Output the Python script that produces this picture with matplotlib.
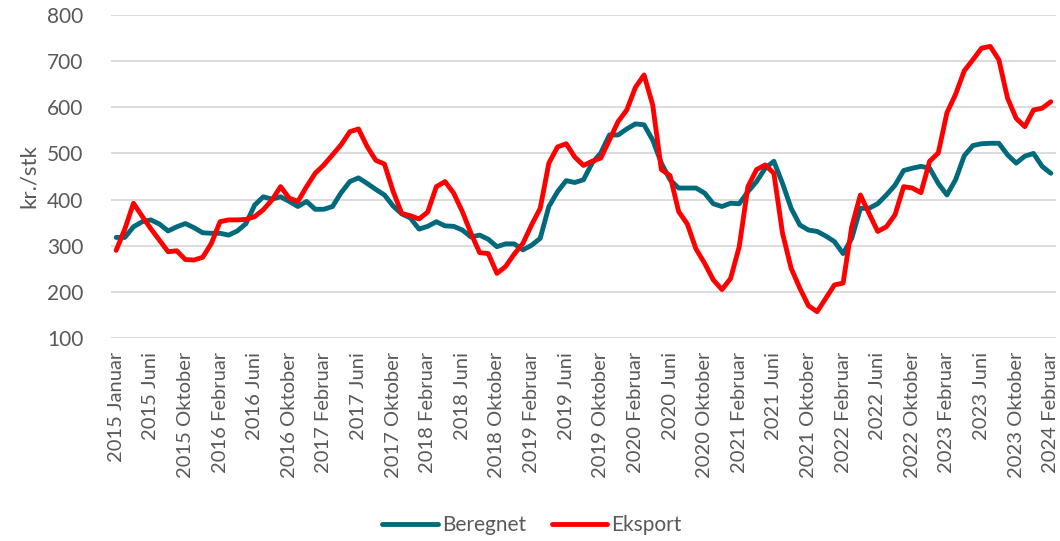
import matplotlib
matplotlib.use("Agg")
import matplotlib.pyplot as plt
import numpy as np

plt.rcParams['font.family'] = ['Lato', 'DejaVu Sans']

tick_labels = [
    "2015 Januar", "2015 Juni", "2015 Oktober", "2016 Februar", "2016 Juni",
    "2016 Oktober", "2017 Februar", "2017 Juni", "2017 Oktober", "2018 Februar",
    "2018 Juni", "2018 Oktober", "2019 Februar", "2019 Juni", "2019 Oktober",
    "2020 Februar", "2020 Juni", "2020 Oktober", "2021 Februar", "2021 Juni",
    "2021 Oktober", "2022 Februar", "2022 Juni", "2022 Oktober", "2023 Februar",
    "2023 Juni", "2023 Oktober", "2024 Februar",
]

beregnet = [
    318, 318, 341, 352, 356, 347, 332, 341, 348, 339,
    328, 327, 327, 323, 332, 348, 388, 406, 401, 406,
    396, 385, 396, 379, 379, 385, 415, 439, 447, 435,
    422, 410, 386, 369, 360, 336, 342, 352, 343, 342,
    334, 319, 323, 314, 298, 304, 304, 291, 301, 316,
    385, 417, 441, 437, 443, 479, 501, 540, 540, 553,
    564, 562, 529, 479, 443, 425, 425, 425, 414, 391,
    385, 392, 391, 417, 439, 468, 483, 435, 381, 345,
    334, 331, 321, 309, 283, 316, 381, 381, 391, 410,
    431, 463, 468, 472, 468, 435, 410, 443, 495, 517,
    521, 522, 522, 497, 479, 494, 500, 472, 457,
]

eksport = [
    290, 336, 392, 364, 337, 312, 287, 289, 270, 269,
    275, 305, 352, 356, 356, 357, 363, 378, 399, 428,
    403, 396, 428, 457, 475, 497, 519, 547, 553, 515,
    485, 477, 418, 370, 365, 358, 373, 428, 439, 414,
    374, 327, 285, 283, 240, 255, 282, 305, 345, 381,
    479, 514, 521, 492, 474, 483, 490, 529, 569, 594,
    643, 670, 605, 465, 452, 374, 347, 293, 262, 226,
    205, 229, 298, 428, 465, 475, 457, 327, 251, 208,
    170, 157, 186, 215, 219, 341, 410, 370, 331, 341,
    367, 428, 425, 415, 483, 501, 588, 628, 679, 703,
    728, 732, 703, 620, 576, 558, 594, 598, 612,
]

yticks = [100, 200, 300, 400, 500, 600, 700, 800]

teal = "#006A7C"
red = "#FF0000"
grey_text = "#595959"

fig = plt.figure(figsize=(10.60, 5.41), dpi=100)
ax = fig.add_axes([0.1047, 0.3752, 0.8915, 0.5971])

x = np.arange(len(beregnet))
ax.plot(x, beregnet, color=teal, lw=3.5, label="Beregnet", solid_joinstyle="round", solid_capstyle="round")
ax.plot(x, eksport, color=red, lw=3.5, label="Eksport", solid_joinstyle="round", solid_capstyle="round")

ax.set_ylim(100, 800)
ax.set_xlim(-0.6, len(beregnet) - 1 + 0.6)
ax.set_yticks(yticks)
ax.set_xticks(np.arange(0, len(beregnet), 4))
ax.set_xticklabels(tick_labels, rotation=90)

ax.grid(axis="y", color="#D9D9D9", lw=1.3)
ax.set_axisbelow(True)
for s in ax.spines.values():
    s.set_visible(False)
ax.tick_params(axis="y", length=0, labelsize=15, colors=grey_text, pad=20)
ax.tick_params(axis="x", length=0, labelsize=14.5, colors=grey_text, pad=10)

ax.set_ylabel("kr./stk", fontsize=16, color=grey_text, labelpad=6)

leg = fig.legend(loc="center", bbox_to_anchor=(0.502, 0.029), ncol=2, frameon=False,
                 fontsize=15, handlelength=2.65, columnspacing=1.25, handletextpad=0.2)
for t in leg.get_texts():
    t.set_color(grey_text)

fig.savefig("out.png", dpi=100)
